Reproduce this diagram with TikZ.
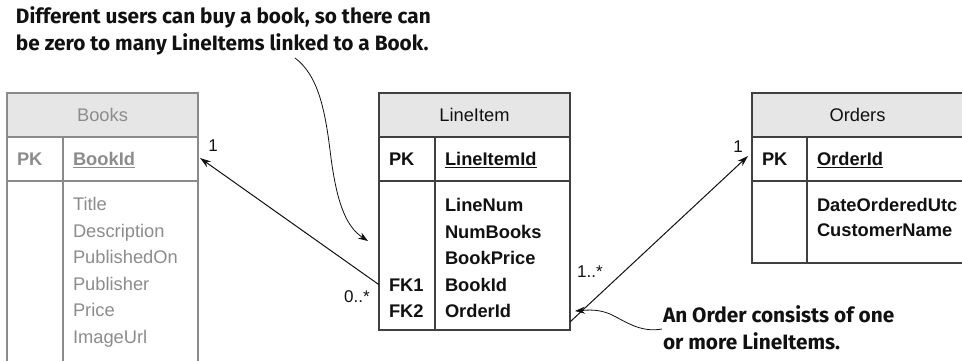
\documentclass[tikz,border=0pt]{standalone}
\usepackage{fontspec}
\setmainfont{Liberation Sans}
\newfontfamily\annotfont{Fira Sans}
\usetikzlibrary{arrows.meta}
\definecolor{fadeline}{HTML}{8A8A8A}
\definecolor{fadetext}{HTML}{8C8C8C}
\definecolor{hdrfill}{HTML}{E6E6E6}
\definecolor{darkline}{HTML}{404040}
\definecolor{inktext}{HTML}{111111}
\begin{document}
\begin{tikzpicture}[x=1pt,y=-1pt,
  every node/.style={inner sep=0pt, outer sep=0pt},
  tabfont/.style={font=\fontsize{18.3}{22}\selectfont},
  cell/.style={draw, line width=1.2pt, anchor=north west, inner sep=0pt},
  fadecell/.style={cell, draw=fadeline},
  darkcell/.style={cell, draw=darkline},
  hdr/.style={fill=hdrfill},
  fadetxt/.style={tabfont, text=fadetext, anchor=base west},
  darktxt/.style={tabfont, text=inktext, anchor=base west},
  bold/.style={font=\fontsize{18.3}{22}\selectfont\bfseries},
  mult/.style={font=\fontsize{17}{20}\selectfont, text=inktext},
  rel/.style={line width=1pt, draw=inktext, -{Stealth[length=11pt,width=7pt]}},
  callout/.style={line width=0.8pt, draw=inktext, -{Stealth[length=10pt,width=7pt]}},
  annot/.style={font=\annotfont\bfseries\fontsize{20.8}{27}\selectfont, text=inktext, anchor=base west}
]
\clip (0,0) rectangle (962,361);
\fill[white] (0,0) rectangle (962,361);

% ---------- Books ----------
\node[fadecell, hdr, minimum width=191pt, minimum height=44pt] (bh) at (7,93) {};
\node[tabfont, text=fadetext] at (bh.center) {Books};
\node[fadecell, minimum width=56pt, minimum height=44pt] (bpkl) at (7,137) {};
\node[fadecell, minimum width=135pt, minimum height=44pt] (bpk) at (63,137) {};
\node[fadecell, minimum width=56pt, minimum height=200pt] (bbl) at (7,181) {};
\node[fadecell, minimum width=135pt, minimum height=200pt] (bbr) at (63,181) {};
\node[fadetxt, bold] (bpkt) at (17,165.5) {PK};
\node[fadetxt, bold] (bid) at (73,165.5) {\underline{BookId}};
\node[fadetxt] (bf1) at (73,210.5) {Title};
\node[fadetxt] (bf2) at (73,237.1) {Description};
\node[fadetxt] (bf3) at (73,263.7) {PublishedOn};
\node[fadetxt] (bf4) at (73,290.3) {Publisher};
\node[fadetxt] (bf5) at (73,316.9) {Price};
\node[fadetxt] (bf6) at (73,343.5) {ImageUrl};

% ---------- LineItem ----------
\node[darkcell, hdr, minimum width=191pt, minimum height=44pt] (lh) at (379,93) {};
\node[tabfont, text=inktext] at (lh.center) {LineItem};
\node[darkcell, minimum width=56pt, minimum height=44pt] (lpkl) at (379,137) {};
\node[darkcell, minimum width=135pt, minimum height=44pt] (lpk) at (435,137) {};
\node[darkcell, minimum width=56pt, minimum height=149pt] (lbl) at (379,181) {};
\node[darkcell, minimum width=135pt, minimum height=149pt] (lbr) at (435,181) {};
\node[darktxt, bold] (lpkt) at (389,165.5) {PK};
\node[darktxt, bold] (lid) at (445,165.5) {\underline{LineItemId}};
\node[darktxt, bold] (lf1) at (445,211.5) {LineNum};
\node[darktxt, bold] (lf2) at (445,238) {NumBooks};
\node[darktxt, bold] (lf3) at (445,264.5) {BookPrice};
\node[darktxt, bold] (lf4) at (445,291) {BookId};
\node[darktxt, bold] (lf5) at (445,317.5) {OrderId};
\node[darktxt, bold] (lfk1) at (389,291) {FK1};
\node[darktxt, bold] (lfk2) at (389,317.5) {FK2};

% ---------- Orders ----------
\node[darkcell, hdr, minimum width=211pt, minimum height=44pt] (oh) at (752,93) {};
\node[tabfont, text=inktext] at (oh.center) {Orders};
\node[darkcell, minimum width=55pt, minimum height=44pt] (opkl) at (752,137) {};
\node[darkcell, minimum width=156pt, minimum height=44pt] (opk) at (807,137) {};
\node[darkcell, minimum width=55pt, minimum height=82pt] (obl) at (752,181) {};
\node[darkcell, minimum width=156pt, minimum height=82pt] (obr) at (807,181) {};
\node[darktxt, bold] (opkt) at (762,165.5) {PK};
\node[darktxt, bold] (oid) at (817,165.5) {\underline{OrderId}};
\node[darktxt, bold] (of1) at (817,211.5) {DateOrderedUtc};
\node[darktxt, bold] (of2) at (817,236.5) {CustomerName};

% ---------- relationships ----------
\draw[rel] (lbl.west |- lfk1.center) -- ([xshift=2pt,yshift=1pt]bpk.east);
\node[mult] (m1) at (213,146) {1};
\node[mult] (m2) at (357,297) {0..*};

\draw[rel] ([yshift=-11pt]lbr.east |- lf5.center) -- ([xshift=-4pt,yshift=3pt]opkl.west);
\node[mult] (m3) at (738,147) {1};
\node[mult] (m4) at (590,272) {1..*};

% ---------- callouts ----------
\node[annot] (a1a) at (16,23.3) {Different users can buy a book, so there can};
\node[annot] (a1b) at (16,50.3) {be zero to many LineItems linked to a Book.};
\coordinate (c1s) at (295,58);
\coordinate (c1e) at (368,241);
\draw[callout] (c1s) .. controls (318,75) and (325,110) .. (330,150) .. controls (336,200) and (345,226) .. (c1e);

\node[annot] (a2a) at (663,322) {An Order consists of one};
\node[annot] (a2b) at (663,349) {or more LineItems.};
\coordinate (c2s) at (662,329);
\coordinate (c2e) at (575,311);
\draw[callout] (c2s) .. controls (640,333) and (625,321) .. (610,314) .. controls (598,309) and (588,310) .. (c2e);
\end{tikzpicture}
\end{document}
